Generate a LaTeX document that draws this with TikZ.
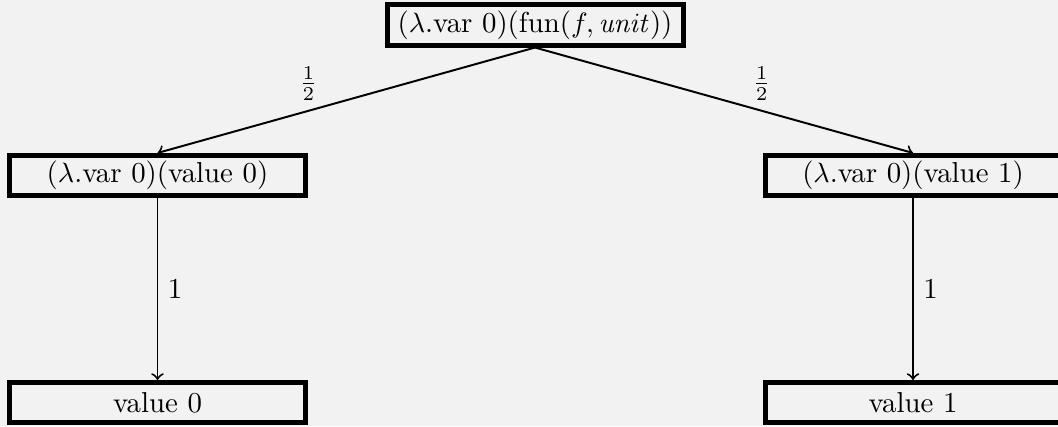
\documentclass[tikz,border=0pt]{standalone}
\usetikzlibrary{arrows}
\begin{document}
\begin{tikzpicture}[x=0.3571pt,y=-0.3571pt,
  term/.style={draw=black,line width=1.79pt,fill=black!5,minimum width=105.7pt,minimum height=14.3pt,inner sep=0pt,font=\fontsize{10.3pt}{12pt}\selectfont},
  conn/.style={->,line width=0.7pt},
  lab/.style={font=\fontsize{10.3pt}{12pt}\selectfont}]
\fill[black!5] (0,0) rectangle (1058,426);
\useasboundingbox (0,0) rectangle (1058,426);
\node[term] (top) at (535,25) {($\lambda$.var 0)(fun($f, \mathit{unit}$))};
\node[term] (l) at (157.5,175.5) {($\lambda$.var 0)(value 0)};
\node[term] (r) at (913,175.5) {($\lambda$.var 0)(value 1)};
\node[term] (ll) at (157.5,402.5) {value 0};
\node[term] (rr) at (913,402.5) {value 1};
\draw[conn] (top.south) -- node[lab,pos=0.6,above] {$\frac{1}{2}$} (l.north);
\draw[conn] (top.south) -- node[lab,pos=0.6,above] {$\frac{1}{2}$} (r.north);
\draw[conn] (l.south) -- node[lab,midway,right] {1} (ll.north);
\draw[conn] (r.south) -- node[lab,midway,right] {1} (rr.north);
\end{tikzpicture}
\end{document}
